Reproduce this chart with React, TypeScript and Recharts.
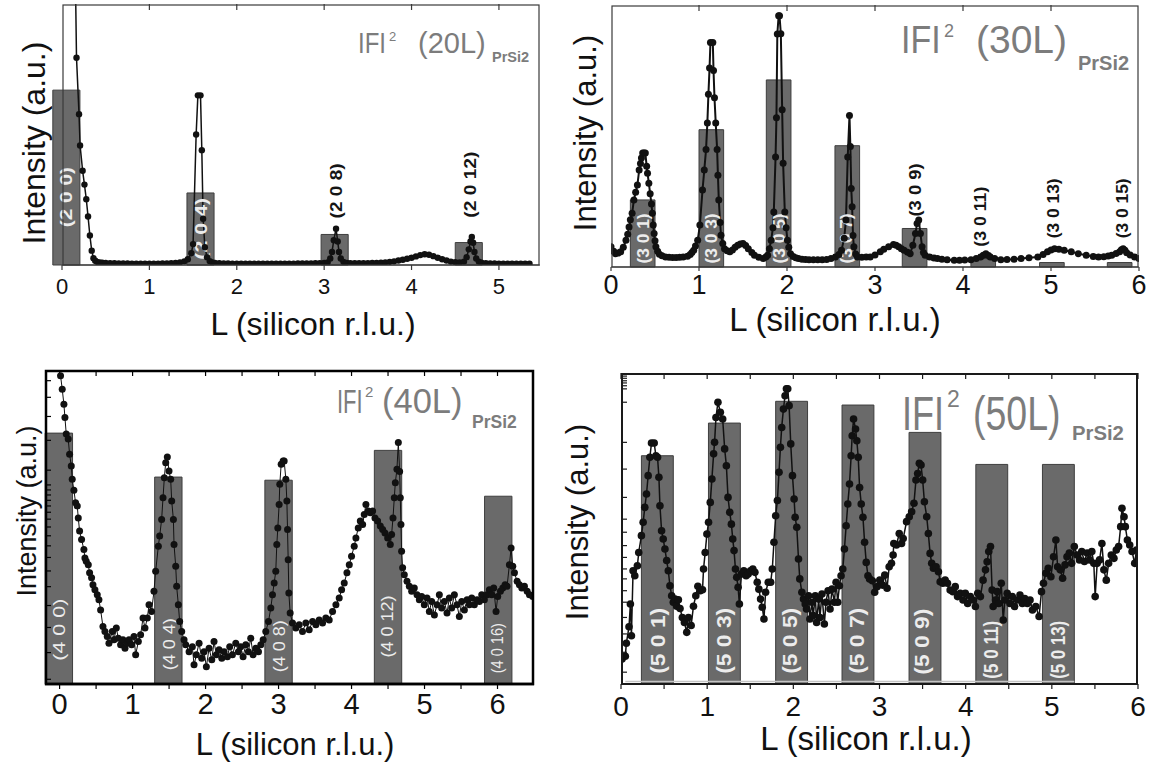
import React from "react";
import { ComposedChart, Line, XAxis, YAxis, ReferenceArea, ReferenceDot, ReferenceLine } from "recharts";

type Pt = [number, number];

const FONT = '"Liberation Sans", Arial, Helvetica, sans-serif';

// ---------- (2 0 L) ----------
const p20Scan: Pt[] = [
  [0.12, 140], [0.145, 130], [0.166, 79.4], [0.195, 57.8], [0.207, 45.8], [0.236, 36.1], [0.257, 30.8], [0.278, 25.2],
  [0.298, 18.6], [0.319, 11.3], [0.34, 5.5], [0.36, 2.6], [0.38, 1.6], [0.4, 1.2], [0.43, 1.0], [0.46, 0.9], [0.5, 0.8],
  [0.55, 0.7], [0.6, 0.7], [0.65, 0.6], [0.7, 0.6], [0.75, 0.6], [0.8, 0.5], [0.85, 0.5], [0.9, 0.5], [0.95, 0.5], [1.0, 0.5],
  [1.05, 0.5], [1.1, 0.5], [1.15, 0.6], [1.2, 0.6], [1.25, 0.7], [1.3, 0.8], [1.35, 1.0], [1.4, 1.4], [1.44, 2.2], [1.48, 4.5],
  [1.5, 8], [1.535, 50], [1.555, 65], [1.585, 65], [1.6, 44], [1.615, 17.7], [1.635, 6.8], [1.66, 3], [1.69, 1.5], [1.72, 1.0],
  [1.75, 0.8], [1.8, 0.7], [1.85, 0.6], [1.9, 0.6], [1.95, 0.5], [2.0, 0.5], [2.05, 0.5], [2.1, 0.5], [2.15, 0.5], [2.2, 0.5],
  [2.25, 0.5], [2.3, 0.5], [2.35, 0.5], [2.4, 0.5], [2.45, 0.5], [2.5, 0.5], [2.55, 0.5], [2.6, 0.5], [2.65, 0.5], [2.7, 0.6],
  [2.75, 0.6], [2.8, 0.6], [2.85, 0.6], [2.9, 0.7], [2.95, 0.7], [3.0, 0.8], [3.04, 1], [3.07, 2.5], [3.09, 5], [3.11, 9.5],
  [3.136, 13.9], [3.155, 9], [3.17, 5], [3.19, 2.5], [3.22, 1.2], [3.26, 0.8], [3.3, 0.7], [3.35, 0.7], [3.4, 0.7], [3.45, 0.7],
  [3.5, 0.7], [3.55, 0.8], [3.6, 0.8], [3.65, 0.9], [3.7, 1.0], [3.75, 1.2], [3.8, 1.4], [3.85, 1.7], [3.9, 2.0], [3.95, 2.4],
  [4.0, 2.8], [4.05, 3.3], [4.1, 3.8], [4.15, 4.1], [4.2, 3.9], [4.25, 3.4], [4.3, 2.8], [4.35, 2.2], [4.4, 1.7], [4.45, 1.3],
  [4.5, 1.1], [4.55, 1.0], [4.6, 1.3], [4.63, 3], [4.655, 6], [4.675, 9], [4.69, 10.7], [4.705, 8.5], [4.72, 5], [4.74, 2.5],
  [4.77, 1.3], [4.8, 0.9], [4.85, 0.7], [4.9, 0.6], [4.95, 0.6], [5.0, 0.5], [5.05, 0.5], [5.1, 0.5], [5.15, 0.5], [5.2, 0.5],
  [5.25, 0.5], [5.3, 0.5], [5.35, 0.5],
];
const p20BarCenters = [0.05, 1.585, 3.12, 4.655];
const p20BarHeights = [67, 27.6, 11.7, 8.6];
const p20Labels = ["(2 0 0)", "(2 0 4)", "(2 0 8)", "(2 0 12)"];
const p20LabelL = [0.05, 1.6, 3.136, 4.67];
const p20LabelY = [26, 13.9, 28.4, 30.8];
const p20LabelDark = [false, false, true, true];
const p20LabelLen = [60, 62, 55, 66];
const p20Ticks = [0, 1, 2, 3, 4, 5];
const p20TopTicks = [1, 2, 3, 4, 5];

// ---------- (3 0 L) ----------
const p30Scan: Pt[] = [
  [0, 7.7], [0.03, 6], [0.05, 5.1], [0.08, 5.3], [0.11, 5.8], [0.14, 7.5], [0.17, 10.2], [0.19, 12.5], [0.205, 15.3], [0.22, 18],
  [0.24, 20.5], [0.26, 25.6], [0.28, 28.5], [0.3, 31.3], [0.32, 37], [0.335, 39.5], [0.346, 41.6], [0.36, 43.5], [0.375, 43.5],
  [0.39, 43.5], [0.405, 38.5], [0.415, 35.8], [0.43, 32], [0.445, 28], [0.46, 24], [0.47, 20.5], [0.48, 16], [0.49, 12.8],
  [0.5, 10], [0.51, 7.7], [0.53, 6], [0.55, 4.9], [0.58, 4.3], [0.62, 3.8], [0.66, 3.7], [0.7, 3.6], [0.74, 3.6], [0.78, 3.7],
  [0.82, 3.8], [0.87, 4.1], [0.9, 4.8], [0.92, 5.5], [0.94, 6.4], [0.96, 8], [0.985, 10.2], [1.01, 16], [1.04, 29.4], [1.06, 37],
  [1.08, 44.8], [1.095, 55], [1.107, 65.9], [1.12, 76], [1.13, 85.7], [1.157, 85.7], [1.165, 75], [1.176, 64.6], [1.19, 55],
  [1.206, 44.8], [1.215, 35], [1.225, 25.6], [1.24, 17], [1.25, 12.1], [1.27, 9], [1.29, 7.0], [1.32, 6.2], [1.35, 5.8],
  [1.38, 6.5], [1.41, 7.5], [1.44, 8.3], [1.47, 8.8], [1.5, 9], [1.53, 8.2], [1.56, 7], [1.6, 5.5], [1.63, 4.5], [1.68, 3.7],
  [1.73, 3.2], [1.76, 3.8], [1.78, 4.5], [1.8, 7], [1.82, 10.2], [1.84, 15], [1.85, 21], [1.87, 42], [1.88, 57], [1.89, 88.9],
  [1.905, 95.9], [1.915, 95.9], [1.93, 89], [1.945, 60], [1.956, 39.6], [1.975, 21], [1.99, 15], [2.005, 10.2], [2.02, 7.5],
  [2.04, 5.1], [2.07, 4], [2.1, 3.5], [2.13, 3.2], [2.17, 3], [2.21, 2.9], [2.25, 2.8], [2.3, 2.8], [2.35, 2.8], [2.4, 2.8],
  [2.45, 2.9], [2.5, 3.2], [2.55, 3.8], [2.59, 4.8], [2.62, 6.4], [2.65, 11], [2.67, 17.9], [2.69, 42], [2.71, 57.8],
  [2.72, 46], [2.73, 30], [2.74, 23], [2.75, 12], [2.76, 7.7], [2.78, 5], [2.8, 3.8], [2.85, 3.7], [2.9, 3.8], [2.945, 3.8],
  [3.0, 4.6], [3.06, 5.8], [3.1, 6.8], [3.155, 7.7], [3.21, 8.6], [3.24, 8.3], [3.27, 7.7], [3.3, 7], [3.33, 6.4], [3.37, 5.6],
  [3.4, 5.1], [3.43, 8.3], [3.46, 12.8], [3.478, 16.6], [3.497, 17.9], [3.516, 12.8], [3.535, 7.7], [3.55, 5.5], [3.57, 4.5],
  [3.62, 3.8], [3.67, 3.4], [3.71, 3.2], [3.76, 3], [3.82, 2.8], [3.9, 2.6], [3.96, 2.6], [4.02, 2.7], [4.09, 2.8], [4.15, 3.2],
  [4.2, 3.8], [4.23, 4.5], [4.26, 5.1], [4.29, 4.4], [4.31, 3.8], [4.36, 3.2], [4.43, 2.8], [4.5, 2.9], [4.58, 3], [4.66, 3.2],
  [4.75, 3.5], [4.85, 3.8], [4.91, 4.8], [4.96, 5.8], [5.0, 6.5], [5.04, 7.0], [5.09, 6.8], [5.15, 6.4], [5.23, 5.8],
  [5.31, 5.1], [5.4, 4.5], [5.48, 4.0], [5.54, 3.8], [5.6, 3.9], [5.65, 4.2], [5.69, 4.5], [5.74, 5.2], [5.78, 5.8],
  [5.8, 6.6], [5.82, 7.0], [5.84, 6.4], [5.86, 5.4], [5.9, 4.6], [5.95, 3.8], [6.0, 3.2],
];
const p30BarCenters = [0.36, 1.14, 1.905, 2.685, 3.45, 4.23, 5.01, 5.78];
const p30BarHeights = [25.6, 52.4, 71.4, 46.3, 14.7, 3.2, 1.7, 1.7];
const p30Labels = ["(3 0 1)", "(3 0 3)", "(3 0 5)", "(3 0 7)", "(3 0 9)", "(3 0 11)", "(3 0 13)", "(3 0 15)"];
const p30LabelL = [0.37, 1.14, 1.918, 2.68, 3.46, 4.2, 5.03, 5.81];
const p30LabelY = [10.9, 10.9, 10.9, 10.9, 29.4, 19.2, 22.4, 22.4];
const p30LabelDark = [false, false, false, false, true, true, true, true];
const p30LabelLen = [50, 50, 50, 50, 53, 60, 60, 60];
const p30Ticks = [0, 1, 2, 3, 4, 5, 6];
const p30TopTicks = [1, 2, 3, 4, 5];

// ---------- (4 0 L) ----------
const p40Scan: Pt[] = [
  [0.013, 98.2], [0.036, 93.9], [0.059, 89.1], [0.073, 84.9], [0.091, 79.6], [0.118, 78], [0.137, 73.2], [0.16, 69.4],
  [0.173, 65.2], [0.196, 61.7], [0.219, 57.7], [0.242, 56.7], [0.256, 52.9], [0.274, 48.7], [0.301, 46], [0.333, 42.8],
  [0.347, 40.1], [0.365, 39.1], [0.393, 38], [0.411, 35.4], [0.438, 33.8], [0.457, 31.6], [0.484, 30], [0.516, 28.4],
  [0.539, 26.8], [0.562, 23.6], [0.594, 18.3], [0.621, 16.7], [0.653, 15.1], [0.676, 13], [0.722, 16.7], [0.745, 14.1],
  [0.777, 17.8], [0.804, 14.6], [0.836, 12.5], [0.868, 14.1], [0.896, 11.4], [0.928, 13], [0.951, 14.1], [0.987, 12.5],
  [1.019, 15.1], [1.042, 9.3], [1.079, 13.5], [1.11, 15.7], [1.143, 21], [1.17, 17.8], [1.202, 21], [1.225, 25.2],
  [1.26, 23.1], [1.293, 29.5], [1.316, 35.9], [1.353, 43.9], [1.371, 47.1], [1.398, 52.4], [1.417, 59.3], [1.435, 65.7],
  [1.454, 70.5], [1.476, 72.3], [1.499, 67.8], [1.522, 65.2], [1.536, 58.3], [1.559, 52.4], [1.568, 44.4], [1.591, 37.5],
  [1.604, 31.1], [1.627, 25.2], [1.645, 19.9], [1.673, 16.7], [1.705, 14.1], [1.728, 12.5], [1.774, 10.3], [1.819, 11.9],
  [1.842, 6.1], [1.874, 9.3], [1.911, 13], [1.947, 8.2], [1.979, 10.3], [2.011, 5.5], [2.048, 11.4], [2.085, 7.7],
  [2.116, 13.5], [2.148, 9.3], [2.185, 10.9], [2.222, 8.2], [2.254, 10.3], [2.299, 8.7], [2.331, 11.9], [2.368, 9.3],
  [2.414, 13], [2.45, 10.3], [2.482, 11.9], [2.514, 8.7], [2.551, 12.5], [2.587, 10.3], [2.619, 14.6], [2.651, 9.3],
  [2.688, 11.4], [2.725, 10.3], [2.757, 12.5], [2.789, 14.1], [2.825, 16.7], [2.862, 19.9], [2.894, 24.2], [2.917, 28.4],
  [2.94, 32.2], [2.962, 35.9], [2.976, 44.4], [2.99, 49.7], [3.008, 57.2], [3.017, 63.6], [3.036, 70], [3.063, 71],
  [3.077, 71], [3.1, 65.2], [3.114, 58.3], [3.123, 49.2], [3.132, 39.6], [3.141, 29], [3.159, 22.6], [3.191, 19.4],
  [3.237, 17.8], [3.283, 18.9], [3.328, 16.7], [3.374, 19.4], [3.42, 17.3], [3.466, 19.9], [3.511, 18.9], [3.557, 20.4],
  [3.603, 19.4], [3.648, 21], [3.694, 20.4], [3.74, 23.1], [3.786, 25.2], [3.831, 27.4], [3.864, 30], [3.9, 32.2],
  [3.937, 35.4], [3.969, 38], [4.0, 40.7], [4.037, 43.9], [4.06, 46.5], [4.092, 49.7], [4.12, 51.9], [4.152, 50.8],
  [4.174, 54], [4.197, 57.2], [4.229, 55.1], [4.257, 54.5], [4.289, 55.1], [4.321, 52.9], [4.357, 51.9], [4.394, 50.3],
  [4.426, 49.2], [4.458, 48.1], [4.495, 46.5], [4.531, 44.4], [4.549, 47.6], [4.568, 52.9], [4.586, 59.3], [4.6, 64.1],
  [4.622, 68.4], [4.641, 76.9], [4.659, 67.7], [4.668, 59.3], [4.677, 50.8], [4.686, 42.3], [4.7, 37], [4.723, 34.8],
  [4.76, 32.7], [4.792, 31.1], [4.824, 29.5], [4.86, 30.6], [4.897, 28.4], [4.929, 26.8], [4.961, 27.9], [4.997, 25.2],
  [5.034, 27.4], [5.066, 23.1], [5.098, 26.3], [5.135, 22], [5.171, 25.2], [5.203, 28.4], [5.235, 24.2], [5.272, 26.3],
  [5.308, 22.6], [5.34, 27.4], [5.372, 24.2], [5.409, 28.4], [5.445, 25.2], [5.477, 21.5], [5.51, 26.3], [5.546, 23.6],
  [5.583, 26.8], [5.615, 25.2], [5.647, 27.4], [5.683, 25.2], [5.72, 26.8], [5.752, 26.3], [5.784, 28.4], [5.82, 26.8],
  [5.857, 28.4], [5.889, 30], [5.921, 28.4], [5.948, 30.6], [5.98, 23.1], [6.003, 27.9], [6.04, 29.5], [6.072, 30.6],
  [6.104, 31.6], [6.131, 31.1], [6.163, 38], [6.186, 43.3], [6.209, 37.5], [6.232, 35.4], [6.269, 32.7], [6.3, 31.6],
  [6.333, 30.6], [6.369, 31.1], [6.406, 29.5], [6.438, 28.4], [6.483, 27.9],
];
const p40BarCenters = [-0.01, 1.49, 3.0, 4.5, 6.01];
const p40BarHeights = [79.9, 65.9, 64.9, 74.4, 59.8];
const p40Labels = ["(4 0 0)", "(4 0 4)", "(4 0 8)", "(4 0 12)", "(4 0 16)"];
const p40LabelL = [0.0, 1.5, 3.01, 4.495, 6.0];
const p40LabelY = [17.3, 12.7, 12, 18.3, 11.4];
const p40LabelDark = [false, false, false, false, false];
const p40LabelLen = [62, 52, 52, 62, 50];
const p40Ticks = [0, 0.5, 1, 1.5, 2, 2.5, 3, 3.5, 4, 4.5, 5, 5.5, 6];
const p40YTicks = [96.6, 91.3, 85.2, 77.6, 68.1, 63.4, 61.8, 60.2, 58.5, 56.7, 54.7, 52.5, 50, 47.2, 44, 40.3, 36, 31, 25, 18, 10, 1.5];

// ---------- (5 0 L) ----------
const p50Scan: Pt[] = [
  [0.012, 8], [0.05, 8.9], [0.062, 13.1], [0.093, 18.4], [0.109, 25.7], [0.121, 15.5], [0.14, 36.4], [0.16, 34.8], [0.19, 38],
  [0.206, 42.3], [0.237, 47.7], [0.257, 52], [0.276, 56.8], [0.296, 61.1], [0.315, 67], [0.335, 72.9], [0.354, 77.5],
  [0.385, 77.5], [0.405, 73.4], [0.424, 72.9], [0.44, 66.5], [0.452, 57.3], [0.471, 49.3], [0.49, 46.6], [0.51, 43.4],
  [0.53, 39.7], [0.549, 36.4], [0.568, 31.6], [0.588, 28.4], [0.607, 26.3], [0.627, 27.3], [0.646, 25], [0.666, 27.1],
  [0.685, 24.3], [0.712, 21.4], [0.736, 19.8], [0.763, 16.6], [0.783, 21.4], [0.814, 18.8], [0.841, 25], [0.868, 28.4],
  [0.892, 31.4], [0.919, 30], [0.946, 30.3], [0.958, 37], [0.977, 42.3], [0.997, 48.2], [1.016, 52], [1.036, 58.4],
  [1.055, 65.9], [1.075, 74], [1.086, 77.7], [1.102, 85.7], [1.125, 90.6], [1.153, 87.4], [1.18, 85.2], [1.203, 75.6],
  [1.223, 70.2], [1.242, 60], [1.262, 55.2], [1.281, 51.4], [1.297, 46.6], [1.312, 42.9], [1.328, 37], [1.343, 34.3],
  [1.359, 31.1], [1.374, 25.7], [1.398, 35.4], [1.425, 36.4], [1.452, 34.8], [1.476, 35.4], [1.503, 36.4], [1.53, 37],
  [1.554, 35.9], [1.581, 32.7], [1.6, 30.5], [1.62, 27.3], [1.639, 24.7], [1.659, 20.9], [1.678, 29.5], [1.709, 32.7],
  [1.737, 32.7], [1.756, 37], [1.775, 45.6], [1.795, 54.1], [1.815, 59], [1.834, 68.1], [1.85, 76.1], [1.865, 82.5],
  [1.885, 88.4], [1.904, 92.7], [1.92, 94.9], [1.935, 94.9], [1.951, 89.5], [1.97, 77.2], [1.99, 67], [2.009, 59.5],
  [2.021, 53.6], [2.04, 50.4], [2.06, 40.2], [2.075, 33.8], [2.099, 29.5], [2.118, 27.3], [2.138, 25.7], [2.153, 24.1],
  [2.177, 28.4], [2.192, 20.9], [2.216, 26.3], [2.231, 22], [2.255, 28.4], [2.27, 19.8], [2.294, 27.3], [2.309, 21.4],
  [2.332, 28.9], [2.36, 19.3], [2.379, 26.3], [2.403, 30], [2.426, 24.1], [2.449, 30.5], [2.476, 26.3], [2.496, 32.7],
  [2.515, 26.3], [2.535, 31.6], [2.554, 34.8], [2.574, 37], [2.593, 43.4], [2.613, 50.9], [2.632, 57.9], [2.652, 64.3],
  [2.671, 73.4], [2.683, 79.8], [2.699, 85.2], [2.722, 82], [2.737, 78.2], [2.753, 72.9], [2.769, 63.2], [2.788, 57.9],
  [2.808, 53.6], [2.827, 45.6], [2.846, 39.1], [2.866, 34.8], [2.885, 33.8], [2.917, 33.2], [2.944, 29.5], [2.972, 31.3],
  [3.003, 33.4], [3.034, 31.8], [3.061, 35], [3.088, 30.8], [3.112, 37.7], [3.139, 38.8], [3.158, 41.5], [3.166, 45.2],
  [3.197, 44.7], [3.229, 48.4], [3.256, 45.2], [3.275, 46.8], [3.314, 52.2], [3.345, 53.8], [3.373, 55.4], [3.4, 58.1],
  [3.423, 65.6], [3.443, 67.7], [3.462, 71], [3.482, 70.4], [3.501, 65.6], [3.521, 58.6], [3.548, 53.8], [3.567, 48.4],
  [3.587, 42], [3.606, 38.8], [3.626, 37.2], [3.657, 37.7], [3.684, 36.1], [3.704, 32.9], [3.735, 32.4], [3.762, 33.4],
  [3.789, 32.4], [3.82, 30.2], [3.852, 29.7], [3.879, 31.3], [3.906, 28.1], [3.937, 29.2], [3.969, 27], [3.996, 29.2],
  [4.023, 25.9], [4.054, 28.1], [4.085, 27], [4.113, 24.9], [4.14, 29.2], [4.171, 28.1], [4.202, 33.4], [4.23, 36.7],
  [4.249, 39.3], [4.268, 42.6], [4.288, 44.2], [4.307, 30.2], [4.319, 24.9], [4.346, 27], [4.366, 29.7], [4.385, 25.9],
  [4.413, 32.4], [4.436, 20.6], [4.455, 27], [4.482, 29.2], [4.514, 25.9], [4.541, 28.1], [4.568, 24.9], [4.6, 27],
  [4.63, 28.6], [4.658, 25.9], [4.685, 27.5], [4.716, 25.9], [4.747, 27], [4.775, 23.8], [4.814, 24.9], [4.852, 21.7],
  [4.88, 29.7], [4.903, 32.4], [4.93, 35.6], [4.958, 37.2], [4.989, 34.5], [5.02, 40.9], [5.047, 46.3], [5.067, 37.7],
  [5.098, 36.7], [5.125, 34], [5.153, 38.3], [5.176, 40.9], [5.203, 42.1], [5.23, 38.8], [5.261, 44.2], [5.293, 41.5],
  [5.32, 39.9], [5.347, 42.6], [5.378, 39.4], [5.41, 42.1], [5.437, 39.9], [5.464, 42.6], [5.487, 38.8], [5.503, 28.1],
  [5.526, 38.8], [5.554, 39.9], [5.581, 45.2], [5.604, 36.7], [5.632, 33.4], [5.659, 38.8], [5.69, 41.5], [5.721, 40.4],
  [5.748, 43.1], [5.775, 44.2], [5.799, 50.6], [5.814, 56.5], [5.838, 53.8], [5.853, 50.6], [5.877, 46.3], [5.904, 44.7],
  [5.931, 42.6], [5.962, 38.8], [5.982, 43.1],
];
const p50BarCenters = [0.422, 1.2, 1.98, 2.75, 3.528, 4.303, 5.076];
const p50BarHeights = [73.4, 83.9, 90.9, 89.7, 80.9, 70.6, 70.6];
const p50Labels = ["(5 0 1)", "(5 0 3)", "(5 0 5)", "(5 0 7)", "(5 0 9)", "(5 0 11)", "(5 0 13)"];
const p50LabelL = [0.424, 1.191, 1.95, 2.73, 3.49, 4.288, 5.067];
const p50LabelY = [13.9, 13.9, 13.9, 13.9, 13.6, 11, 11];
const p50LabelDark = [false, false, false, false, false, false, false];
const p50LabelLen = [66, 66, 66, 66, 66, 58, 58];
const p50Ticks = [0, 0.5, 1, 1.5, 2, 2.5, 3, 3.5, 4, 4.5, 5, 5.5, 6];
const p50YTicks = [99.7, 99, 98.3, 97.5, 96.8, 95.9, 94.9, 90.6, 77.7, 69.1, 60, 53, 48.8, 44.5, 40.7, 37, 33.8, 30, 26.3, 21.4, 16.1, 10.2, 3.8];
const p50Floor = 0.8;
const p50FloorSpan = [0.05, 5.26];

const X_AXIS_H = 35;

type LabelStyle = { size: number; weight: number };

type PanelCfg = {
  box: { x: number; y: number; w: number; h: number };
  margin: { top: number; right: number; bottom: number; left: number };
  xDomain: [number, number];
  scan: Pt[];
  barCenters: number[];
  barHeights: number[];
  barWidth: number;
  labels: string[];
  labelL: number[];
  labelY: number[];
  labelDark: boolean[];
  labelLen: number[];
  labelStyle: LabelStyle;
  xTicks: number[];
  topTicks: number[];
  yTicks?: number[];
  tickFont: number;
  tickSize: number;
  tickMargin: number;
  dotR: number;
  lineW: number;
  frame: string;
  frameW: number;
  floor?: { y: number; span: number[] };
};

const NoTick = () => <g />;

const VText = ({ cx, cy, text, dark, len, st }: { cx: number; cy: number; text: string; dark: boolean; len: number; st: LabelStyle }) => (
  <text
    x={cx}
    y={cy}
    transform={`rotate(-90 ${cx} ${cy})`}
    textAnchor="middle"
    dominantBaseline="central"
    fill={dark ? "#151515" : "#ececec"}
    fontSize={st.size}
    fontWeight={st.weight}
    fontFamily={FONT}
    textLength={len}
    lengthAdjust="spacingAndGlyphs"
  >
    {text}
  </text>
);

// plot rectangle in page coordinates (left/top/right axes are 1px wide)
const plotRect = (c: PanelCfg) => ({
  x: c.box.x + c.margin.left + 1,
  y: c.box.y + c.margin.top + 1,
  w: c.box.w - c.margin.left - c.margin.right - 2,
  h: c.box.h - c.margin.top - c.margin.bottom - X_AXIS_H - 1,
});

function Panel(c: PanelCfg) {
  const rows = c.scan.map(([l, v]) => ({ l, v }));
  const tickLine = { stroke: c.frame, strokeWidth: 1.2 };
  return (
    <div style={{ position: "absolute", left: c.box.x, top: c.box.y, width: c.box.w, height: c.box.h }}>
      <ComposedChart width={c.box.w} height={c.box.h} data={rows} margin={c.margin}>
        <XAxis
          xAxisId="b"
          dataKey="l"
          type="number"
          domain={c.xDomain}
          ticks={c.xTicks}
          interval={0}
          allowDataOverflow
          height={X_AXIS_H}
          tickSize={c.tickSize}
          tickMargin={c.tickMargin}
          tickFormatter={(v: number) => (Number.isInteger(v) ? String(v) : "")}
          axisLine={{ stroke: c.frame, strokeWidth: c.frameW }}
          tickLine={tickLine}
          tick={{ fontSize: c.tickFont, fill: "#111", fontFamily: FONT }}
        />
        <XAxis
          xAxisId="t"
          orientation="top"
          dataKey="l"
          type="number"
          domain={c.xDomain}
          ticks={c.topTicks}
          interval={0}
          mirror
          height={1}
          tick={NoTick}
          tickSize={6}
          axisLine={false}
          tickLine={tickLine}
        />
        <YAxis
          yAxisId="l"
          type="number"
          domain={[0, 100]}
          allowDataOverflow
          width={1}
          mirror
          ticks={c.yTicks}
          interval={0}
          tick={NoTick}
          tickSize={6}
          axisLine={false}
          tickLine={c.yTicks ? tickLine : false}
        />
        <YAxis
          yAxisId="r"
          orientation="right"
          type="number"
          domain={[0, 100]}
          width={1}
          mirror
          ticks={c.yTicks}
          interval={0}
          tick={NoTick}
          tickSize={6}
          axisLine={false}
          tickLine={c.yTicks ? tickLine : false}
        />
        {c.barCenters.map((b, i) => (
          <ReferenceArea
            key={`bar-${i}`}
            xAxisId="b"
            yAxisId="l"
            x1={b - c.barWidth / 2}
            x2={b + c.barWidth / 2}
            y1={0}
            y2={c.barHeights[i]}
            fill="#6a6a6a"
            fillOpacity={1}
            stroke="#3e3e3e"
            strokeWidth={1}
            ifOverflow="visible"
          />
        ))}
        {c.floor && (
          <ReferenceLine
            xAxisId="b"
            yAxisId="l"
            segment={[
              { x: c.floor.span[0], y: c.floor.y },
              { x: c.floor.span[1], y: c.floor.y },
            ]}
            stroke="#c4c4c4"
            strokeWidth={1.5}
          />
        )}
        {c.labels.map((t, i) => (
          <ReferenceDot
            key={`lab-${i}`}
            xAxisId="b"
            yAxisId="l"
            x={c.labelL[i]}
            y={c.labelY[i]}
            r={1}
            ifOverflow="visible"
            shape={(p: any) => (
              <VText cx={p.cx} cy={p.cy} text={t} dark={c.labelDark[i]} len={c.labelLen[i]} st={c.labelStyle} />
            )}
          />
        ))}
        <Line
          xAxisId="b"
          yAxisId="l"
          type="linear"
          dataKey="v"
          stroke="#111"
          strokeWidth={c.lineW}
          dot={{ r: c.dotR, fill: "#111", stroke: "#111", strokeWidth: 0 }}
          activeDot={false}
          isAnimationActive={false}
        />
      </ComposedChart>
    </div>
  );
}

const PANELS: PanelCfg[] = [
  {
    box: { x: 0, y: 0, w: 560, h: 345 },
    margin: { top: 4, right: 20, bottom: 45, left: 62 },
    xDomain: [0, 5.47],
    scan: p20Scan,
    barCenters: p20BarCenters,
    barHeights: p20BarHeights,
    barWidth: 0.31,
    labels: p20Labels,
    labelL: p20LabelL,
    labelY: p20LabelY,
    labelDark: p20LabelDark,
    labelLen: p20LabelLen,
    labelStyle: { size: 17, weight: 700 },
    xTicks: p20Ticks,
    topTicks: p20TopTicks,
    tickFont: 22,
    tickSize: 5,
    tickMargin: 8,
    dotR: 3.2,
    lineW: 1.5,
    frame: "#3a3a3a",
    frameW: 1.2,
  },
  {
    box: { x: 560, y: 0, w: 592, h: 345 },
    margin: { top: 5, right: 13, bottom: 43, left: 51 },
    xDomain: [0, 6],
    scan: p30Scan,
    barCenters: p30BarCenters,
    barHeights: p30BarHeights,
    barWidth: 0.28,
    labels: p30Labels,
    labelL: p30LabelL,
    labelY: p30LabelY,
    labelDark: p30LabelDark,
    labelLen: p30LabelLen,
    labelStyle: { size: 17, weight: 700 },
    xTicks: p30Ticks,
    topTicks: p30TopTicks,
    tickFont: 27,
    tickSize: 4,
    tickMargin: 4,
    dotR: 3.5,
    lineW: 2,
    frame: "#3a3a3a",
    frameW: 1.2,
  },
  {
    box: { x: 0, y: 360, w: 560, h: 409 },
    margin: { top: 10, right: 26, bottom: 50, left: 45 },
    xDomain: [-0.2, 6.5],
    scan: p40Scan,
    barCenters: p40BarCenters,
    barHeights: p40BarHeights,
    barWidth: 0.375,
    labels: p40Labels,
    labelL: p40LabelL,
    labelY: p40LabelY,
    labelDark: p40LabelDark,
    labelLen: p40LabelLen,
    labelStyle: { size: 17, weight: 400 },
    xTicks: p40Ticks,
    topTicks: p40Ticks,
    yTicks: p40YTicks,
    tickFont: 29,
    tickSize: 5,
    tickMargin: 4,
    dotR: 3.5,
    lineW: 1,
    frame: "#000",
    frameW: 2.5,
  },
  {
    box: { x: 560, y: 360, w: 592, h: 409 },
    margin: { top: 13, right: 14, bottom: 50, left: 61 },
    xDomain: [0, 6],
    scan: p50Scan,
    barCenters: p50BarCenters,
    barHeights: p50BarHeights,
    barWidth: 0.37,
    labels: p50Labels,
    labelL: p50LabelL,
    labelY: p50LabelY,
    labelDark: p50LabelDark,
    labelLen: p50LabelLen,
    labelStyle: { size: 21, weight: 700 },
    xTicks: p50Ticks,
    topTicks: p50Ticks,
    yTicks: p50YTicks,
    tickFont: 28,
    tickSize: 5,
    tickMargin: 7,
    dotR: 3.8,
    lineW: 1.5,
    frame: "#1a1a1a",
    frameW: 2,
    floor: { y: p50Floor, span: p50FloorSpan },
  },
];

// title pieces: "IFI" (stretched vertically by ik), superscript "2", "(h0L)", subscript "PrSi2"
type Title = {
  main: string;
  ix: number; y: number; ifs: number; ik: number;
  sx: number; sy: number; sfs: number;
  mx: number; mfs: number; mk: number;
  px: number; py: number; pfs: number;
};

const TITLES: Title[] = [
  { main: "(20L)", ix: 358, y: 53, ifs: 24, ik: 1.22, sx: 389, sy: 41, sfs: 13, mx: 418, mfs: 29, mk: 1.0, px: 492, py: 62, pfs: 14.5 },
  { main: "(30L)", ix: 901, y: 53, ifs: 34, ik: 1.15, sx: 944, sy: 37, sfs: 18, mx: 976, mfs: 39, mk: 1.0, px: 1078, py: 70, pfs: 20 },
  { main: "(40L)", ix: 337, y: 413, ifs: 22, ik: 1.55, sx: 365, sy: 397, sfs: 15, mx: 382, mfs: 34.5, mk: 1.02, px: 472, py: 428, pfs: 17.5 },
  { main: "(50L)", ix: 902, y: 430, ifs: 36, ik: 1.36, sx: 947, sy: 407, sfs: 23, mx: 973, mfs: 37.5, mk: 1.3, px: 1072, py: 440, pfs: 20.3 },
];

const X_TITLES = [
  { x: 313, y: 335, fs: 32 },
  { x: 835, y: 331, fs: 33 },
  { x: 295, y: 755, fs: 31 },
  { x: 866, y: 750, fs: 33 },
];
const Y_TITLES = [
  { x: 45, y: 143, fs: 32 },
  { x: 596, y: 133, fs: 31 },
  { x: 36, y: 511, fs: 27 },
  { x: 588, y: 522, fs: 31 },
];

const TITLE_GRAY = "#7c7c7c";

export default function App() {
  return (
    <div style={{ position: "absolute", left: 0, top: 0, width: 1152, height: 769, background: "#fff", overflow: "hidden" }}>
      {PANELS.map((p, i) => (
        <Panel key={`panel-${i}`} {...p} />
      ))}
      <svg width={1152} height={769} style={{ position: "absolute", left: 0, top: 0, pointerEvents: "none" }}>
        {PANELS.map((p, i) => {
          const r = plotRect(p);
          return (
            <rect key={`frame-${i}`} x={r.x} y={r.y} width={r.w} height={r.h} fill="none" stroke={p.frame} strokeWidth={p.frameW} />
          );
        })}
        {TITLES.map((t, i) => (
          <g key={`tt-${i}`} fill={TITLE_GRAY} fontFamily={FONT}>
            <text transform={`translate(${t.ix} ${t.y}) scale(1 ${t.ik})`} fontSize={t.ifs}>
              IFI
            </text>
            <text x={t.sx} y={t.sy} fontSize={t.sfs}>
              2
            </text>
            <text transform={`translate(${t.mx} ${t.y}) scale(1 ${t.mk})`} fontSize={t.mfs}>
              {t.main}
            </text>
            <text x={t.px} y={t.py} fontSize={t.pfs} fontWeight={700}>
              PrSi2
            </text>
          </g>
        ))}
        {X_TITLES.map((p, i) => (
          <text key={`xt-${i}`} x={p.x} y={p.y} fontSize={p.fs} fontFamily={FONT} fill="#111" textAnchor="middle">
            L (silicon r.l.u.)
          </text>
        ))}
        {Y_TITLES.map((p, i) => (
          <text
            key={`yt-${i}`}
            x={p.x}
            y={p.y}
            fontSize={p.fs}
            fontFamily={FONT}
            fill="#111"
            textAnchor="middle"
            transform={`rotate(-90 ${p.x} ${p.y})`}
          >
            Intensity (a.u.)
          </text>
        ))}
      </svg>
    </div>
  );
}
